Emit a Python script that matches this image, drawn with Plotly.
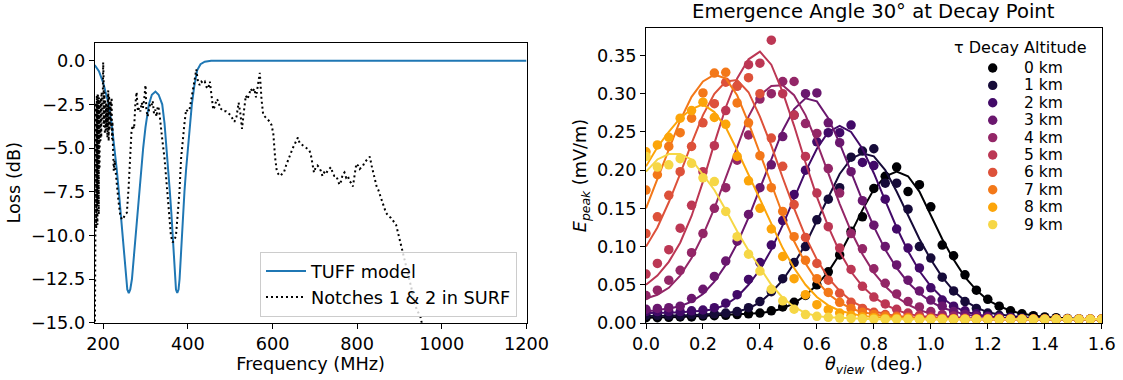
import plotly.graph_objects as go

W, H = 1123, 380

# ---------------- Left panel data ----------------
tuff_freq = [180, 190, 200, 207, 213, 220, 227, 232, 237, 241, 246, 250, 254, 257, 260.5,
             264, 268, 272, 276.5, 281, 285, 290, 294.5, 300, 308, 315, 323.5, 331, 339.5,
             345, 350, 354, 357.5, 361, 364, 367, 369.5, 372, 375, 378, 380.5, 383, 386,
             389, 392, 396, 400, 405, 409.5, 415, 422, 430, 440, 455, 1200]
tuff_loss = [-0.25, -0.6, -1.25, -2.0, -2.5, -3.6, -5.0, -6.2, -7.5, -8.7, -10.0, -11.3, -12.5, -13.1, -13.3,
             -13.1, -12.5, -11.3, -10.0, -8.7, -7.5, -6.2, -5.0, -3.8, -2.5, -1.95, -1.77, -1.95, -2.5,
             -3.6, -5.0, -6.2, -7.5, -8.7, -10.0, -11.3, -12.5, -13.1, -13.3, -13.1, -12.5, -11.3, -10.0,
             -8.7, -7.5, -6.2, -5.0, -3.6, -2.5, -1.5, -0.55, -0.2, -0.06, 0.0, 0.0]

surf_freq = [180.5, 181.0, 181.5, 182.0, 182.5, 183.0, 183.5, 184.0, 184.5, 185.0,
             185.5, 186.0, 186.5, 187.0, 187.5, 188.0, 188.5, 189.0, 189.5, 190.0,
             190.5, 191.0, 191.5, 192.0, 192.5, 193.0, 193.5, 194.0, 194.5, 195.0,
             195.5, 196.0, 196.5, 197.5, 198.5, 199.5, 200.0, 201.0, 202.0, 203.0,
             204.0, 205.0, 206.0, 207.0, 208.0, 209.0, 210.0, 211.0, 212.0, 213.0,
             214.0, 215.0, 216.0, 218.0, 219.0, 220.0, 221.0, 222.0, 223.0, 224.0,
             225.0, 227.0, 229.0, 232.0, 236.0, 240.0, 244.0, 248.0, 252.0, 256.0,
             260.0, 264.0, 267.0, 270.0, 273.0, 276.0, 279.0, 282.0, 285.0, 288.0,
             291.0, 294.0, 297.0, 300.0, 302.0, 305.0, 308.0, 311.0, 314.0, 317.0,
             320.0, 323.0, 326.0, 329.0, 332.0, 336.0, 340.0, 345.0, 350.0, 355.0,
             360.0, 364.0, 368.0, 372.0, 376.0, 380.0, 384.0, 388.0, 392.0, 396.0,
             400.0, 404.0, 408.0, 412.0, 416.0, 420.0, 424.0, 428.0, 432.0, 436.0,
             440.0, 444.0, 448.0, 452.0, 456.0, 460.0, 464.0, 468.0, 472.0, 476.0,
             480.0, 485.0, 490.0, 495.0, 500.0, 505.0, 510.0, 515.0, 520.0, 524.0,
             528.0, 532.0, 537.0, 541.0, 545.0, 549.0, 553.0, 557.0, 561.0, 565.0,
             570.0, 574.0, 578.0, 582.0, 586.0, 590.0, 594.0, 598.0, 602.0, 606.0,
             610.0, 614.0, 618.0, 622.0, 627.0, 632.0, 637.0, 642.0, 648.0, 654.0,
             660.0, 664.0, 668.0, 674.0, 680.0, 686.0, 690.0, 694.0, 698.0, 702.0,
             706.0, 710.0, 714.0, 718.0, 722.0, 726.0, 730.0, 734.0, 738.0, 742.0,
             746.0, 750.0, 754.0, 758.0, 762.0, 766.0, 770.0, 774.0, 778.0, 782.0,
             786.0, 790.0, 794.0, 798.0, 802.0, 806.0, 810.0, 814.0, 818.0, 822.0,
             826.0, 830.0, 834.0, 838.0, 842.0, 846.0, 850.0, 856.0, 862.0, 868.0,
             874.0, 880.0, 886.0, 892.0, 898.0, 904.0, 910.0, 916.0, 922.0, 928.0,
             934.0, 940.0, 946.0, 950.0, 954.0, 958.0]
surf_loss = [-15.5, -12.0, -9.3, -3.5, -9.5, -2.4, -9.6, -2.1, -9.0, -2.0,
             -8.6, -2.2, -9.4, -1.9, -8.2, -2.0, -7.5, -2.3, -8.8, -2.1,
             -7.0, -2.4, -6.2, -2.2, -5.0, -2.6, -4.6, -2.3, -4.2, -2.1,
             -4.4, -1.8, -3.9, -2.0, -3.6, -1.2, -0.1, -1.0, -3.8, -1.8,
             -4.2, -2.2, -4.0, -2.4, -3.8, -2.6, -4.4, -2.0, -1.7, -4.6,
             -2.0, -4.0, -3.2, -2.3, -3.8, -2.1, -4.5, -3.5, -4.8, -5.8,
             -6.3, -5.7, -6.4, -7.0, -8.0, -8.8, -9.1, -9.0, -8.8, -8.7,
             -7.3, -5.5, -4.0, -3.7, -3.9, -2.5, -1.8, -2.9, -2.7, -2.9,
             -2.4, -2.7, -2.2, -1.4, -2.8, -3.2, -2.8, -2.5, -2.6, -2.3,
             -3.0, -2.8, -3.2, -2.6, -2.8, -3.8, -4.6, -5.6, -7.0, -8.2,
             -10.0, -10.4, -10.3, -10.0, -9.0, -7.6, -5.6, -4.5, -3.6, -2.8,
             -2.9, -2.8, -2.3, -1.6, -1.1, -0.5, -1.2, -1.4, -1.2, -1.3,
             -1.2, -1.5, -1.6, -1.2, -2.2, -2.8, -2.6, -2.2, -2.3, -2.7,
             -2.8, -2.9, -2.9, -3.0, -3.1, -3.3, -3.5, -3.2, -2.4, -3.0,
             -3.9, -3.0, -2.0, -2.2, -1.9, -1.6, -1.8, -1.6, -2.1, -1.5,
             -0.7, -2.2, -3.1, -3.2, -3.3, -3.4, -3.5, -3.7, -4.2, -5.5,
             -6.3, -6.5, -6.6, -6.5, -6.4, -6.0, -5.7, -5.3, -5.0, -4.7,
             -4.4, -4.7, -4.8, -4.9, -5.0, -5.1, -5.3, -6.0, -6.4, -6.1,
             -6.0, -6.1, -6.3, -6.6, -6.4, -6.5, -6.3, -6.2, -6.1, -6.4,
             -6.6, -6.6, -6.8, -7.1, -6.9, -6.5, -6.4, -6.7, -6.6, -6.9,
             -7.0, -7.2, -6.6, -5.9, -6.0, -6.2, -6.1, -6.0, -5.8, -5.7,
             -5.6, -5.5, -6.0, -6.4, -6.9, -7.2, -7.4, -7.8, -8.3, -8.7,
             -8.9, -9.0, -9.2, -9.4, -10.0, -10.6, -11.1, -11.7, -12.3, -13.0,
             -13.7, -14.2, -14.5, -14.7, -15.2, -15.8]

freq_ticks = [200, 400, 600, 800, 1000, 1200]
loss_ticks = [0.0, -2.5, -5.0, -7.5, -10.0, -12.5, -15.0]
loss_ticklabels = ["0.0", "\u22122.5", "\u22125.0", "\u22127.5", "\u221210.0", "\u221212.5", "\u221215.0"]

# ---------------- Right panel data ----------------
theta = [0.00, 0.04, 0.08, 0.12, 0.16, 0.20, 0.24, 0.28, 0.32, 0.36,
         0.40, 0.44, 0.48, 0.52, 0.56, 0.60, 0.64, 0.68, 0.72, 0.76,
         0.80, 0.84, 0.88, 0.92, 0.96, 1.00, 1.04, 1.08, 1.12, 1.16,
         1.20, 1.24, 1.28, 1.32, 1.36, 1.40, 1.44, 1.48, 1.52, 1.56,
         1.60]

altitudes = ["0 km", "1 km", "2 km", "3 km", "4 km", "5 km", "6 km", "7 km", "8 km", "9 km"]
colors = ["#000004", "#160b39", "#420a68", "#6a176e", "#932667",
          "#bc3754", "#dd513a", "#f37819", "#fca50a", "#f6d746"]

dots_0km = [0.007, 0.007, 0.0075, 0.008, 0.008, 0.009, 0.0095, 0.010, 0.011, 0.012,
            0.013, 0.016, 0.021, 0.027, 0.036, 0.050, 0.067, 0.089, 0.120, 0.139,
            0.176, 0.192, 0.204, 0.172, 0.181, 0.152, 0.102, 0.088, 0.063, 0.043,
            0.031, 0.022, 0.016, 0.012, 0.0096, 0.008, 0.007, 0.006, 0.0055, 0.005,
            0.005]
fit_0km = [0.007, 0.007, 0.0075, 0.008, 0.0085, 0.009, 0.0095, 0.010, 0.011, 0.012,
           0.013, 0.015, 0.019, 0.026, 0.036, 0.050, 0.067, 0.090, 0.118, 0.148,
           0.175, 0.192, 0.198, 0.192, 0.172, 0.142, 0.110, 0.083, 0.060, 0.043,
           0.030, 0.022, 0.016, 0.012, 0.0095, 0.008, 0.007, 0.006, 0.0055, 0.005,
           0.005]
dots_1km = [0.010, 0.010, 0.010, 0.010, 0.011, 0.011, 0.012, 0.013, 0.015, 0.020,
            0.028, 0.041, 0.058, 0.079, 0.100, 0.135, 0.162, 0.177, 0.217, 0.225,
            0.228, 0.183, 0.183, 0.149, 0.100, 0.085, 0.060, 0.042, 0.028, 0.019,
            0.013, 0.010, 0.008, 0.007, 0.006, 0.006, 0.0055, 0.005, 0.005, 0.005,
            0.005]
fit_1km = [0.009, 0.009, 0.0095, 0.010, 0.010, 0.011, 0.012, 0.013, 0.015, 0.019,
           0.027, 0.040, 0.056, 0.078, 0.103, 0.133, 0.165, 0.195, 0.215, 0.222,
           0.218, 0.200, 0.172, 0.140, 0.110, 0.083, 0.060, 0.042, 0.029, 0.020,
           0.014, 0.011, 0.009, 0.0075, 0.0065, 0.006, 0.0055, 0.005, 0.005, 0.005,
           0.005]
dots_2km = [0.015, 0.015, 0.015, 0.015, 0.016, 0.017, 0.020, 0.026, 0.037, 0.057,
            0.079, 0.102, 0.134, 0.168, 0.200, 0.237, 0.249, 0.249, 0.259, 0.210,
            0.206, 0.162, 0.123, 0.098, 0.072, 0.046, 0.030, 0.022, 0.016, 0.012,
            0.009, 0.008, 0.007, 0.006, 0.0055, 0.005, 0.005, 0.005, 0.005, 0.005,
            0.005]
fit_2km = [0.013, 0.013, 0.0135, 0.014, 0.015, 0.016, 0.018, 0.024, 0.034, 0.050,
           0.070, 0.096, 0.128, 0.163, 0.198, 0.228, 0.250, 0.258, 0.250, 0.228,
           0.196, 0.160, 0.125, 0.094, 0.068, 0.048, 0.033, 0.022, 0.015, 0.011,
           0.009, 0.007, 0.0065, 0.006, 0.0055, 0.005, 0.005, 0.005, 0.005, 0.005,
           0.005]
dots_3km = [0.018, 0.019, 0.020, 0.022, 0.032, 0.044, 0.061, 0.081, 0.107, 0.142,
            0.177, 0.207, 0.244, 0.272, 0.300, 0.301, 0.262, 0.236, 0.198, 0.160,
            0.128, 0.100, 0.076, 0.056, 0.042, 0.030, 0.022, 0.015, 0.011, 0.009,
            0.008, 0.007, 0.006, 0.0055, 0.005, 0.005, 0.005, 0.005, 0.005, 0.005,
            0.005]
fit_3km = [0.015, 0.017, 0.019, 0.022, 0.028, 0.038, 0.054, 0.076, 0.104, 0.138,
           0.176, 0.215, 0.252, 0.280, 0.294, 0.290, 0.268, 0.235, 0.198, 0.160,
           0.126, 0.096, 0.072, 0.053, 0.039, 0.028, 0.020, 0.015, 0.011, 0.009,
           0.0075, 0.0065, 0.006, 0.0055, 0.005, 0.005, 0.005, 0.005, 0.005, 0.005,
           0.005]
dots_4km = [0.036, 0.043, 0.056, 0.069, 0.092, 0.117, 0.150, 0.177, 0.213, 0.246,
            0.293, 0.300, 0.316, 0.316, 0.261, 0.248, 0.202, 0.170, 0.117, 0.097,
            0.071, 0.052, 0.038, 0.028, 0.021, 0.015, 0.011, 0.009, 0.007, 0.006,
            0.006, 0.0055, 0.005, 0.005, 0.005, 0.005, 0.005, 0.005, 0.005, 0.005,
            0.005]
fit_4km = [0.032, 0.037, 0.046, 0.062, 0.085, 0.115, 0.150, 0.190, 0.232, 0.270,
           0.298, 0.310, 0.311, 0.298, 0.272, 0.236, 0.196, 0.156, 0.120, 0.090,
           0.066, 0.048, 0.034, 0.024, 0.017, 0.012, 0.009, 0.0075, 0.0065, 0.006,
           0.0055, 0.005, 0.005, 0.005, 0.005, 0.005, 0.005, 0.005, 0.005, 0.005,
           0.005]
dots_5km = [0.064, 0.078, 0.096, 0.124, 0.154, 0.198, 0.232, 0.278, 0.310, 0.338,
            0.340, 0.370, 0.300, 0.272, 0.218, 0.170, 0.126, 0.098, 0.070, 0.048,
            0.034, 0.025, 0.018, 0.013, 0.010, 0.008, 0.007, 0.006, 0.006, 0.0055,
            0.005, 0.005, 0.005, 0.005, 0.005, 0.005, 0.005, 0.005, 0.005, 0.005,
            0.005]
fit_5km = [0.050, 0.062, 0.080, 0.105, 0.140, 0.185, 0.235, 0.282, 0.320, 0.345,
           0.355, 0.338, 0.302, 0.258, 0.210, 0.165, 0.126, 0.093, 0.067, 0.048,
           0.034, 0.024, 0.017, 0.012, 0.009, 0.0075, 0.0065, 0.006, 0.0055, 0.005,
           0.005, 0.005, 0.005, 0.005, 0.005, 0.005, 0.005, 0.005, 0.005, 0.005,
           0.005]
dots_6km = [0.117, 0.139, 0.167, 0.198, 0.231, 0.262, 0.287, 0.315, 0.310, 0.321,
            0.300, 0.242, 0.205, 0.155, 0.112, 0.078, 0.056, 0.039, 0.027, 0.019,
            0.014, 0.011, 0.009, 0.008, 0.007, 0.006, 0.006, 0.0055, 0.005, 0.005,
            0.005, 0.005, 0.005, 0.005, 0.005, 0.005, 0.005, 0.005, 0.005, 0.005,
            0.005]
fit_6km = [0.100, 0.125, 0.158, 0.195, 0.235, 0.272, 0.300, 0.316, 0.318, 0.302,
           0.270, 0.232, 0.190, 0.150, 0.113, 0.083, 0.059, 0.042, 0.029, 0.021,
           0.015, 0.012, 0.009, 0.008, 0.007, 0.006, 0.006, 0.0055, 0.005, 0.005,
           0.005, 0.005, 0.005, 0.005, 0.005, 0.005, 0.005, 0.005, 0.005, 0.005,
           0.005]
dots_7km = [0.174, 0.194, 0.231, 0.249, 0.268, 0.301, 0.327, 0.328, 0.288, 0.262,
            0.219, 0.177, 0.146, 0.113, 0.082, 0.058, 0.040, 0.027, 0.019, 0.014,
            0.011, 0.009, 0.008, 0.007, 0.006, 0.006, 0.0055, 0.005, 0.005, 0.005,
            0.005, 0.005, 0.005, 0.005, 0.005, 0.005, 0.005, 0.005, 0.005, 0.005,
            0.005]
fit_7km = [0.150, 0.188, 0.228, 0.265, 0.296, 0.316, 0.325, 0.320, 0.298, 0.262,
           0.222, 0.181, 0.142, 0.107, 0.078, 0.055, 0.038, 0.027, 0.019, 0.014,
           0.011, 0.009, 0.008, 0.007, 0.006, 0.006, 0.0055, 0.005, 0.005, 0.005,
           0.005, 0.005, 0.005, 0.005, 0.005, 0.005, 0.005, 0.005, 0.005, 0.005,
           0.005]
dots_8km = [0.224, 0.233, 0.243, 0.268, 0.278, 0.289, 0.269, 0.260, 0.218, 0.186,
            0.150, 0.123, 0.087, 0.058, 0.037, 0.024, 0.0175, 0.013, 0.010, 0.008,
            0.007, 0.006, 0.006, 0.0055, 0.005, 0.005, 0.005, 0.005, 0.005, 0.005,
            0.005, 0.005, 0.005, 0.005, 0.005, 0.005, 0.005, 0.005, 0.005, 0.005,
            0.005]
fit_8km = [0.205, 0.230, 0.250, 0.268, 0.280, 0.286, 0.276, 0.256, 0.226, 0.194,
           0.160, 0.128, 0.098, 0.072, 0.050, 0.034, 0.023, 0.016, 0.012, 0.009,
           0.008, 0.007, 0.006, 0.0055, 0.005, 0.005, 0.005, 0.005, 0.005, 0.005,
           0.005, 0.005, 0.005, 0.005, 0.005, 0.005, 0.005, 0.005, 0.005, 0.005,
           0.005]
dots_9km = [0.218, 0.204, 0.207, 0.215, 0.209, 0.190, 0.185, 0.146, 0.113, 0.090,
            0.068, 0.044, 0.029, 0.018, 0.011, 0.0087, 0.0074, 0.0065, 0.006, 0.0055,
            0.005, 0.005, 0.005, 0.005, 0.005, 0.005, 0.005, 0.005, 0.005, 0.005,
            0.0048, 0.0048, 0.0048, 0.0048, 0.0048, 0.0048, 0.0048, 0.0048, 0.0048, 0.0048,
            0.0048]
fit_9km = [0.198, 0.214, 0.221, 0.221, 0.214, 0.194, 0.174, 0.148, 0.120, 0.095,
           0.072, 0.050, 0.033, 0.021, 0.013, 0.009, 0.0075, 0.0065, 0.006, 0.0055,
           0.005, 0.005, 0.005, 0.005, 0.005, 0.005, 0.005, 0.005, 0.005, 0.005,
           0.005, 0.005, 0.005, 0.005, 0.005, 0.005, 0.005, 0.005, 0.005, 0.005,
           0.005]

dots_all = [dots_0km, dots_1km, dots_2km, dots_3km, dots_4km,
            dots_5km, dots_6km, dots_7km, dots_8km, dots_9km]
fits_all = [fit_0km, fit_1km, fit_2km, fit_3km, fit_4km,
            fit_5km, fit_6km, fit_7km, fit_8km, fit_9km]
for d, f in zip(dots_all, fits_all):
    assert len(d) == len(theta) and len(f) == len(theta)
assert len(surf_freq) == len(surf_loss)
assert len(tuff_freq) == len(tuff_loss)

theta_ticks = [0.0, 0.2, 0.4, 0.6, 0.8, 1.0, 1.2, 1.4, 1.6]
epeak_ticks = [0.00, 0.05, 0.10, 0.15, 0.20, 0.25, 0.30, 0.35]

# ---------------- Figure ----------------
FONT = "DejaVu Sans"
FS = 17.7

fig = go.Figure()

fig.add_trace(go.Scatter(x=tuff_freq, y=tuff_loss, mode="lines", name="TUFF model",
                         line=dict(color="#1f77b4", width=2), xaxis="x", yaxis="y",
                         legend="legend"))
fig.add_trace(go.Scatter(x=surf_freq, y=surf_loss, mode="lines", name="Notches 1 &amp; 2 in SURF",
                         line=dict(color="black", width=2, dash="2px,3px"), xaxis="x", yaxis="y",
                         legend="legend"))

for i, (lab, col) in enumerate(zip(altitudes, colors)):
    fig.add_trace(go.Scatter(x=theta, y=dots_all[i], mode="markers", name=lab,
                             marker=dict(color=col, size=9.5, line=dict(width=0)),
                             xaxis="x2", yaxis="y2", showlegend=False))
    fig.add_trace(go.Scatter(x=theta, y=fits_all[i], mode="lines", name=lab + " fit",
                             line=dict(color=col, width=2),
                             xaxis="x2", yaxis="y2", showlegend=False))

axis_common = dict(showline=True, linecolor="black", linewidth=1, mirror=True,
                   ticks="outside", ticklen=5, tickwidth=1, tickcolor="black",
                   showgrid=False, zeroline=False, automargin=False,
                   tickfont=dict(family=FONT, size=FS, color="black"))

L_x0, L_x1, L_yt, L_yb = 94.7, 526.5, 42.7, 322.7
R_x0, R_x1, R_yt, R_yb = 646.0, 1101.7, 28.0, 323.0

fig.update_layout(
    template="none",
    width=W, height=H,
    margin=dict(l=0, r=0, t=0, b=0),
    paper_bgcolor="white", plot_bgcolor="white",
    font=dict(family=FONT, size=FS, color="black"),
    xaxis=dict(domain=[L_x0 / W, L_x1 / W], range=[180, 1200], anchor="y",
               tickvals=freq_ticks, ticktext=[str(v) for v in freq_ticks],
               title=dict(text="Frequency (MHz)", standoff=2, font=dict(size=FS)),
               **axis_common),
    yaxis=dict(domain=[1 - L_yb / H, 1 - L_yt / H], range=[-15, 1.03], anchor="x",
               tickvals=loss_ticks, ticktext=loss_ticklabels,
               title=dict(text="Loss (dB)", standoff=5, font=dict(size=FS)),
               **axis_common),
    xaxis2=dict(domain=[R_x0 / W, R_x1 / W], range=[0, 1.6], anchor="y2",
                tickvals=theta_ticks, ticktext=["%.1f" % v for v in theta_ticks],
                title=dict(text="<i>θ</i><sub><i>view</i></sub> (deg.)", standoff=2, font=dict(size=FS)),
                **axis_common),
    yaxis2=dict(domain=[1 - R_yb / H, 1 - R_yt / H], range=[0, 0.386], anchor="x2",
                tickvals=epeak_ticks, ticktext=["%.2f" % v for v in epeak_ticks],
                title=dict(text="<i>E</i><sub><i>peak</i></sub> (mV/m)", standoff=5, font=dict(size=FS)),
                **axis_common),
    legend=dict(x=517 / W, xanchor="right", y=1 - 317 / H, yanchor="bottom",
                bgcolor="rgba(255,255,255,0.8)", bordercolor="#cccccc", borderwidth=1,
                font=dict(family=FONT, size=FS, color="black"),
                itemwidth=40, tracegroupgap=0),
    showlegend=True,
)

# Panel title
fig.add_annotation(text="Emergence Angle 30° at Decay Point",
                   x=(R_x0 + R_x1) / 2 / W, y=1 - 12 / H, xref="paper", yref="paper",
                   xanchor="center", yanchor="middle", showarrow=False,
                   font=dict(family=FONT, size=19.6, color="black"))

# Right-panel legend (title, colored markers and labels)
fig.add_annotation(text="τ Decay Altitude", x=1020 / W, y=1 - 48 / H, xref="paper", yref="paper",
                   xanchor="center", yanchor="middle", showarrow=False,
                   font=dict(family=FONT, size=16, color="black"))
row_y = [68.0, 85.4, 102.8, 120.2, 137.6, 155.0, 172.4, 189.8, 207.2, 224.6]
for lab, col, yy in zip(altitudes, colors, row_y):
    fig.add_shape(type="circle", xref="paper", yref="paper", xsizemode="pixel", ysizemode="pixel",
                  xanchor=992.7 / W, yanchor=1 - yy / H, x0=-4.7, x1=4.7, y0=-4.7, y1=4.7,
                  fillcolor=col, line=dict(width=0))
    fig.add_annotation(text=lab, x=1023.3 / W, y=1 - yy / H, xref="paper", yref="paper",
                       xanchor="left", yanchor="middle", showarrow=False, borderpad=0,
                       font=dict(family=FONT, size=15.5, color="black"))

fig.write_html("out.html",
               config={"displayModeBar": False},
               post_script="document.body.style.margin='0';document.body.style.overflow='hidden';")
